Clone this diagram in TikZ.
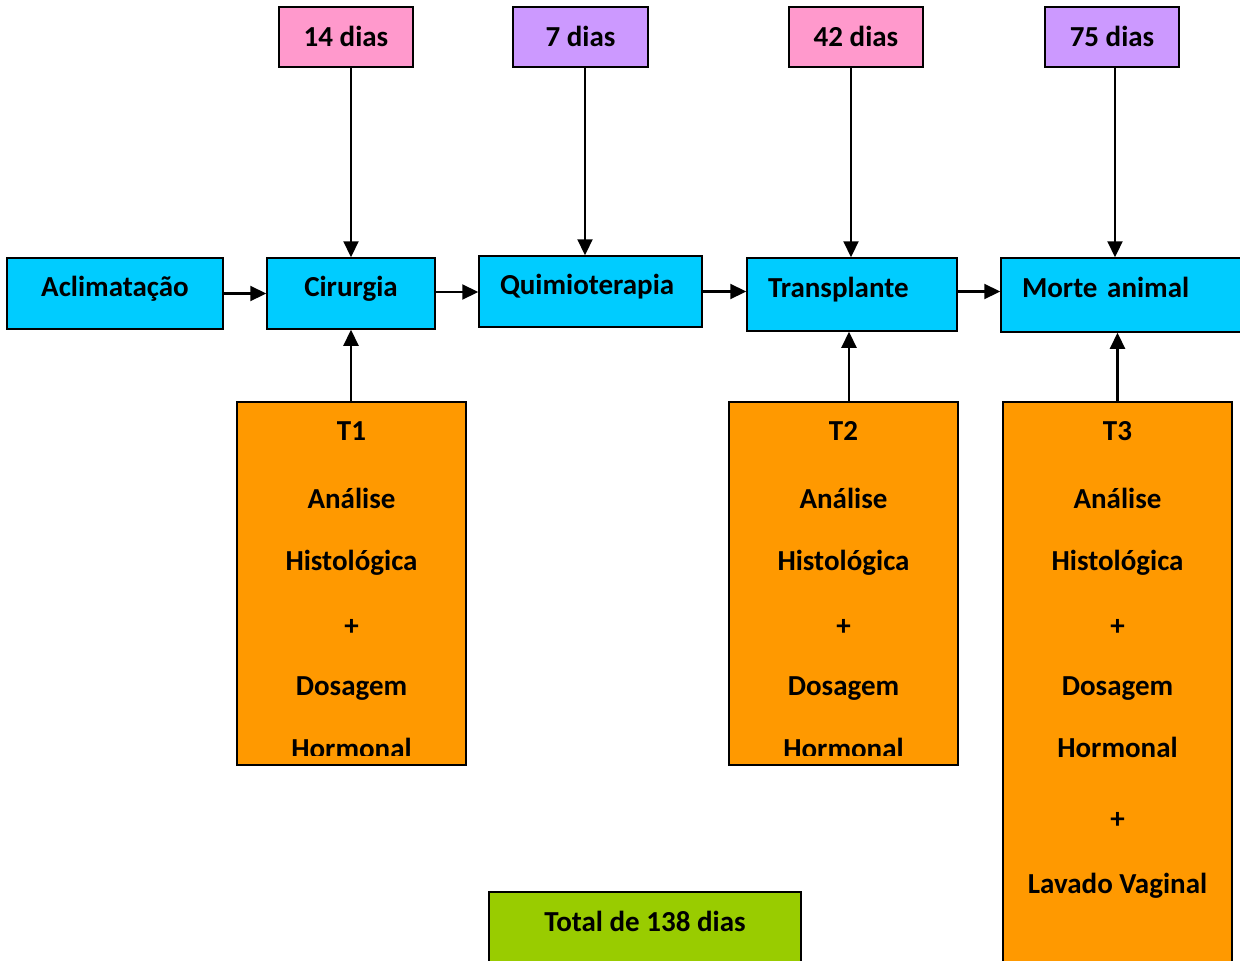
\documentclass[tikz,border=0pt]{standalone}
\usepackage{fontspec}
\setmainfont{Carlito}
\usetikzlibrary{arrows.meta}
\definecolor{cblue}{HTML}{00CCFF}
\definecolor{cpink}{HTML}{FF99CC}
\definecolor{cpurple}{HTML}{CC99FF}
\definecolor{corange}{HTML}{FF9900}
\definecolor{cgreen}{HTML}{99CC00}
\begin{document}
\begin{tikzpicture}[x=1pt,y=-1pt,
  font=\fontsize{29}{35}\selectfont\bfseries,
  box/.style={draw=black, line width=1.5pt, inner sep=0pt},
  bluebox/.style={box, fill=cblue, minimum height=71pt, text height=20pt, text depth=15pt},
  leftbox/.style={bluebox, align=left, inner xsep=21pt},
  daybox/.style={box, minimum width=134pt, minimum height=60pt, text height=20pt, text depth=2pt},
  orbox/.style={box, fill=corange, minimum width=229pt},
  lbl/.style={anchor=base, inner sep=0pt},
  arr/.style={line width=2.2pt, -{Triangle[length=16pt,width=15pt]}}]
\useasboundingbox (0,0) rectangle (1240,961);
\clip (0,0) rectangle (1240,961);

% main row
\node[bluebox, minimum width=216pt] (aclim) at (115,293.5) {Aclimatação};
\node[bluebox, minimum width=168pt] (cir) at (351,293.5) {Cirurgia};
\node[leftbox, text width=181pt] (quimio) at (590.5,291.5) {Quimioterapia};
\node[leftbox, text width=168pt, minimum height=73pt] (transp) at (852,294.5) {Transplante};
\node[leftbox, text width=219pt, minimum height=74pt] (morte) at (1131.5,295) {Morte animal};

% top boxes
\node[daybox, fill=cpink] (d14) at (346,37) {14 dias};
\node[daybox, fill=cpurple, minimum width=135pt] (d7) at (580.5,37) {7 dias};
\node[daybox, fill=cpink] (d42) at (856,37) {42 dias};
\node[daybox, fill=cpurple] (d75) at (1112,37) {75 dias};

% orange boxes
\node[orbox, minimum height=363pt] (t1) at (351.5,583.5) {};
\node[orbox, minimum height=363pt] (t2) at (843.5,583.5) {};
\node[orbox, minimum height=598pt] (t3) at (1117.5,701) {};

\begin{scope}
\clip (237,402) rectangle (466,755);
\foreach \txt/\yy [count=\k] in {T1/440,Análise/508,Histológica/570,+/635,Dosagem/695,Hormonal/758}
  \node[lbl] (ta\k) at (351.5,\yy) {\txt};
\end{scope}
\begin{scope}
\clip (729,402) rectangle (958,755);
\foreach \txt/\yy [count=\k] in {T2/440,Análise/508,Histológica/570,+/635,Dosagem/695,Hormonal/758}
  \node[lbl] (tb\k) at (843.5,\yy) {\txt};
\end{scope}
\foreach \txt/\yy [count=\k] in {T3/440,Análise/508,Histológica/570,+/635,Dosagem/695,Hormonal/757,+/828,Lavado Vaginal/893}
  \node[lbl] (tc\k) at (1117.5,\yy) {\txt};

% total
\node[box, fill=cgreen, minimum width=312pt, minimum height=78pt, text height=20pt, text depth=20pt] (total) at (645,931) {Total de 138 dias};

% horizontal arrows
\draw[arr] (aclim.east) -- (cir.west);
\draw[arr] ([yshift=1.5pt]cir.east) -- ([yshift=1.5pt]cir.east -| quimio.west);
\draw[arr] (quimio.east) -- (quimio.east -| transp.west);
\draw[arr] ([yshift=3pt]transp.east) -- ([yshift=3pt]transp.east -| morte.west);

% vertical arrows from top
\draw[arr] ([xshift=5pt]d14.south) -- ([xshift=5pt]d14.south |- cir.north);
\draw[arr] ([xshift=4.5pt]d7.south) -- ([xshift=4.5pt]d7.south |- quimio.north);
\draw[arr] ([xshift=-5pt]d42.south) -- ([xshift=-5pt]d42.south |- transp.north);
\draw[arr] ([xshift=3pt]d75.south) -- ([xshift=3pt]d75.south |- morte.north);

% vertical arrows from bottom
\draw[arr] (t1.north -| cir.south) -- (cir.south);
\draw[arr] ([xshift=5.5pt]t2.north) -- ([xshift=5.5pt]t2.north |- transp.south);
\draw[arr] (t3.north) -- (t3.north |- morte.south);
\end{tikzpicture}
\end{document}
